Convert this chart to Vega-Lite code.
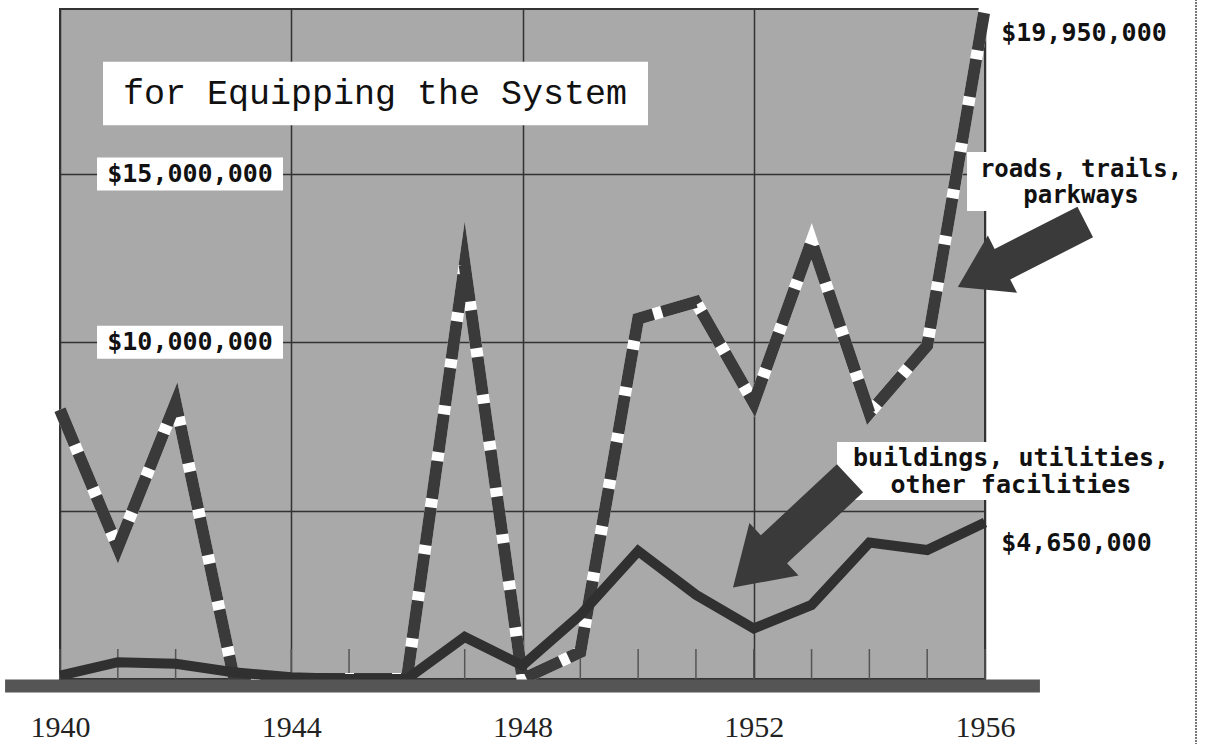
{
  "$schema": "https://vega.github.io/schema/vega-lite/v6.json",
  "width": 925,
  "height": 670,
  "autosize": {"type": "none"},
  "padding": {"left": 60, "top": 9, "right": 220, "bottom": 65},
  "background": "white",
  "config": {
    "view": {"fill": "#a9a9a9", "stroke": "#333333", "strokeWidth": 2}
  },
  "datasets": {
    "spend": [
      {"year": 1940, "series": "roads", "value": 8000000},
      {"year": 1941, "series": "roads", "value": 3900000},
      {"year": 1942, "series": "roads", "value": 8200000},
      {"year": 1943, "series": "roads", "value": 100000},
      {"year": 1944, "series": "roads", "value": 0},
      {"year": 1945, "series": "roads", "value": 0},
      {"year": 1946, "series": "roads", "value": 0},
      {"year": 1947, "series": "roads", "value": 12300000},
      {"year": 1948, "series": "roads", "value": 0},
      {"year": 1949, "series": "roads", "value": 800000},
      {"year": 1950, "series": "roads", "value": 10700000},
      {"year": 1951, "series": "roads", "value": 11200000},
      {"year": 1952, "series": "roads", "value": 8200000},
      {"year": 1953, "series": "roads", "value": 13000000},
      {"year": 1954, "series": "roads", "value": 7900000},
      {"year": 1955, "series": "roads", "value": 9900000},
      {"year": 1956, "series": "roads", "value": 19950000},
      {"year": 1940, "series": "buildings", "value": 100000},
      {"year": 1941, "series": "buildings", "value": 500000},
      {"year": 1942, "series": "buildings", "value": 450000},
      {"year": 1943, "series": "buildings", "value": 200000},
      {"year": 1944, "series": "buildings", "value": 50000},
      {"year": 1945, "series": "buildings", "value": 0},
      {"year": 1946, "series": "buildings", "value": 0},
      {"year": 1947, "series": "buildings", "value": 1250000},
      {"year": 1948, "series": "buildings", "value": 400000},
      {"year": 1949, "series": "buildings", "value": 1900000},
      {"year": 1950, "series": "buildings", "value": 3800000},
      {"year": 1951, "series": "buildings", "value": 2500000},
      {"year": 1952, "series": "buildings", "value": 1500000},
      {"year": 1953, "series": "buildings", "value": 2200000},
      {"year": 1954, "series": "buildings", "value": 4050000},
      {"year": 1955, "series": "buildings", "value": 3830000},
      {"year": 1956, "series": "buildings", "value": 4650000}
    ],
    "ylabels": [
      {"label": "$15,000,000", "value": 15000000},
      {"label": "$10,000,000", "value": 10000000}
    ],
    "endlabels": [
      {"label": "$19,950,000", "value": 19190000},
      {"label": "$4,650,000", "value": 4040000}
    ]
  },
  "data": {"name": "spend"},
  "layer": [
    {
      "transform": [{"filter": "datum.series === 'roads'"}],
      "mark": {"type": "rule", "color": "#555555", "strokeWidth": 1.5},
      "encoding": {
        "x": {
          "field": "year",
          "type": "quantitative",
          "scale": {"domain": [1940, 1956], "nice": false, "zero": false},
          "axis": {
            "title": null,
            "values": [1940, 1944, 1948, 1952, 1956],
            "format": "d",
            "domain": false,
            "ticks": false,
            "grid": true,
            "gridColor": "#333333",
            "gridWidth": 1.5,
            "labelFont": "Liberation Serif",
            "labelFontSize": 30,
            "labelColor": "#222222",
            "labelPadding": 33,
            "labelFlush": false,
            "labelOverlap": false,
            "labelBound": false
          }
        },
        "y": {
          "datum": 0,
          "type": "quantitative",
          "scale": {"domain": [0, 19900000], "nice": false, "zero": true},
          "axis": {
            "title": null,
            "values": [5000000, 10000000, 15000000],
            "domain": false,
            "ticks": false,
            "labels": false,
            "grid": true,
            "gridColor": "#333333",
            "gridWidth": 1.5
          }
        },
        "y2": {"datum": 890000}
      }
    },
    {
      "transform": [{"filter": "datum.series === 'roads'"}],
      "mark": {"type": "line", "color": "#ffffff", "strokeWidth": 12, "strokeJoin": "miter", "strokeMiterLimit": 12, "strokeCap": "butt"},
      "encoding": {
        "x": {"field": "year", "type": "quantitative"},
        "y": {"field": "value", "type": "quantitative"}
      }
    },
    {
      "transform": [{"filter": "datum.series === 'roads'"}],
      "mark": {"type": "line", "color": "#3a3a3a", "strokeWidth": 12, "strokeJoin": "miter", "strokeMiterLimit": 12, "strokeCap": "butt", "strokeDash": [38, 9]},
      "encoding": {
        "x": {"field": "year", "type": "quantitative"},
        "y": {"field": "value", "type": "quantitative"}
      }
    },
    {
      "transform": [{"filter": "datum.series === 'buildings'"}],
      "mark": {"type": "line", "color": "#303030", "strokeWidth": 10, "strokeJoin": "miter", "strokeMiterLimit": 8},
      "encoding": {
        "x": {"field": "year", "type": "quantitative"},
        "y": {"field": "value", "type": "quantitative"}
      }
    },
    {
      "data": {"values": [{"part": "baseline"}]},
      "mark": {"type": "rule", "color": "#555555", "strokeWidth": 13, "yOffset": 7},
      "encoding": {
        "x": {"datum": 1939.05, "type": "quantitative"},
        "x2": {"datum": 1956.95},
        "y": {"datum": 0, "type": "quantitative"}
      }
    },
    {
      "data": {"values": [{"t": "for Equipping the System"}]},
      "mark": {"type": "rect", "color": "#ffffff", "opacity": 1},
      "encoding": {
        "x": {"datum": 1940.744, "type": "quantitative"},
        "x2": {"datum": 1950.171},
        "y": {"datum": 18330000, "type": "quantitative"},
        "y2": {"datum": 16450000}
      }
    },
    {
      "data": {"values": [{"t": "for Equipping the System"}]},
      "mark": {"type": "text", "font": "Liberation Mono", "fontSize": 35, "color": "#111111", "align": "center", "baseline": "middle"},
      "encoding": {
        "x": {"datum": 1945.449, "type": "quantitative"},
        "y": {"datum": 17410000, "type": "quantitative"},
        "text": {"field": "t", "type": "nominal"}
      }
    },
    {
      "data": {"name": "ylabels"},
      "mark": {"type": "point", "shape": "M -1 -0.177 L 1 -0.177 L 1 0.177 L -1 0.177 Z", "filled": true, "fill": "#ffffff", "opacity": 1, "strokeWidth": 0, "size": 34596},
      "encoding": {
        "x": {"datum": 1942.249, "type": "quantitative"},
        "y": {"field": "value", "type": "quantitative"}
      }
    },
    {
      "data": {"name": "ylabels"},
      "mark": {"type": "text", "font": "DejaVu Sans Mono", "fontWeight": "bold", "fontSize": 25, "color": "#111111", "align": "center", "baseline": "middle"},
      "encoding": {
        "x": {"datum": 1942.249, "type": "quantitative"},
        "y": {"field": "value", "type": "quantitative"},
        "text": {"field": "label", "type": "nominal"}
      }
    },
    {
      "data": {"values": [{"t": "roads, trails,\nparkways"}]},
      "mark": {"type": "rect", "color": "#ffffff", "opacity": 1},
      "encoding": {
        "x": {"datum": 1955.689, "type": "quantitative"},
        "x2": {"datum": 1959.546},
        "y": {"datum": 15650000, "type": "quantitative"},
        "y2": {"datum": 13900000}
      }
    },
    {
      "data": {"values": [{"t": "roads, trails,\nparkways"}]},
      "mark": {"type": "text", "font": "DejaVu Sans Mono", "fontWeight": "bold", "fontSize": 24, "lineHeight": 26, "lineBreak": "\n", "color": "#111111", "align": "center", "baseline": "middle"},
      "encoding": {
        "x": {"datum": 1957.661, "type": "quantitative"},
        "y": {"datum": 15120000, "type": "quantitative"},
        "text": {"field": "t", "type": "nominal"}
      }
    },
    {
      "data": {"values": [{"t": "buildings, utilities,\nother facilities"}]},
      "mark": {"type": "rect", "color": "#ffffff", "opacity": 1},
      "encoding": {
        "x": {"datum": 1953.44, "type": "quantitative"},
        "x2": {"datum": 1959.546},
        "y": {"datum": 7040000, "type": "quantitative"},
        "y2": {"datum": 5320000}
      }
    },
    {
      "data": {"values": [{"t": "buildings, utilities,\nother facilities"}]},
      "mark": {"type": "text", "font": "DejaVu Sans Mono", "fontWeight": "bold", "fontSize": 25, "lineHeight": 27, "lineBreak": "\n", "color": "#111111", "align": "center", "baseline": "middle"},
      "encoding": {
        "x": {"datum": 1956.449, "type": "quantitative"},
        "y": {"datum": 6560000, "type": "quantitative"},
        "text": {"field": "t", "type": "nominal"}
      }
    },
    {
      "data": {"values": [{"part": "roads arrow"}]},
      "mark": {"type": "point", "shape": "M -1 -0.24 L 0.3 -0.24 L 0.3 -0.45 L 1 0 L 0.3 0.45 L 0.3 0.24 L -1 0.24 Z", "filled": true, "fill": "#3a3a3a", "opacity": 1, "strokeWidth": 0, "size": 20449, "angle": 153},
      "encoding": {
        "x": {"datum": 1956.632, "type": "quantitative"},
        "y": {"datum": 12610000, "type": "quantitative"}
      }
    },
    {
      "data": {"values": [{"part": "buildings arrow"}]},
      "mark": {"type": "point", "shape": "M -1 -0.24 L 0.3 -0.24 L 0.3 -0.45 L 1 0 L 0.3 0.45 L 0.3 0.24 L -1 0.24 Z", "filled": true, "fill": "#3a3a3a", "opacity": 1, "strokeWidth": 0, "size": 25600, "angle": 137},
      "encoding": {
        "x": {"datum": 1952.653, "type": "quantitative"},
        "y": {"datum": 4340000, "type": "quantitative"}
      }
    },
    {
      "data": {"name": "endlabels"},
      "mark": {"type": "text", "font": "DejaVu Sans Mono", "fontWeight": "bold", "fontSize": 25, "color": "#111111", "align": "left", "baseline": "middle"},
      "encoding": {
        "x": {"datum": 1956.28, "type": "quantitative"},
        "y": {"field": "value", "type": "quantitative"},
        "text": {"field": "label", "type": "nominal"}
      }
    },
    {
      "data": {"values": [{"part": "page edge"}]},
      "mark": {"type": "rule", "color": "#777777", "strokeWidth": 2, "strokeDash": [2, 1]},
      "encoding": {
        "x": {"datum": 1959.65, "type": "quantitative"},
        "y": {"datum": 20200000, "type": "quantitative"},
        "y2": {"datum": -1950000}
      }
    }
  ]
}
